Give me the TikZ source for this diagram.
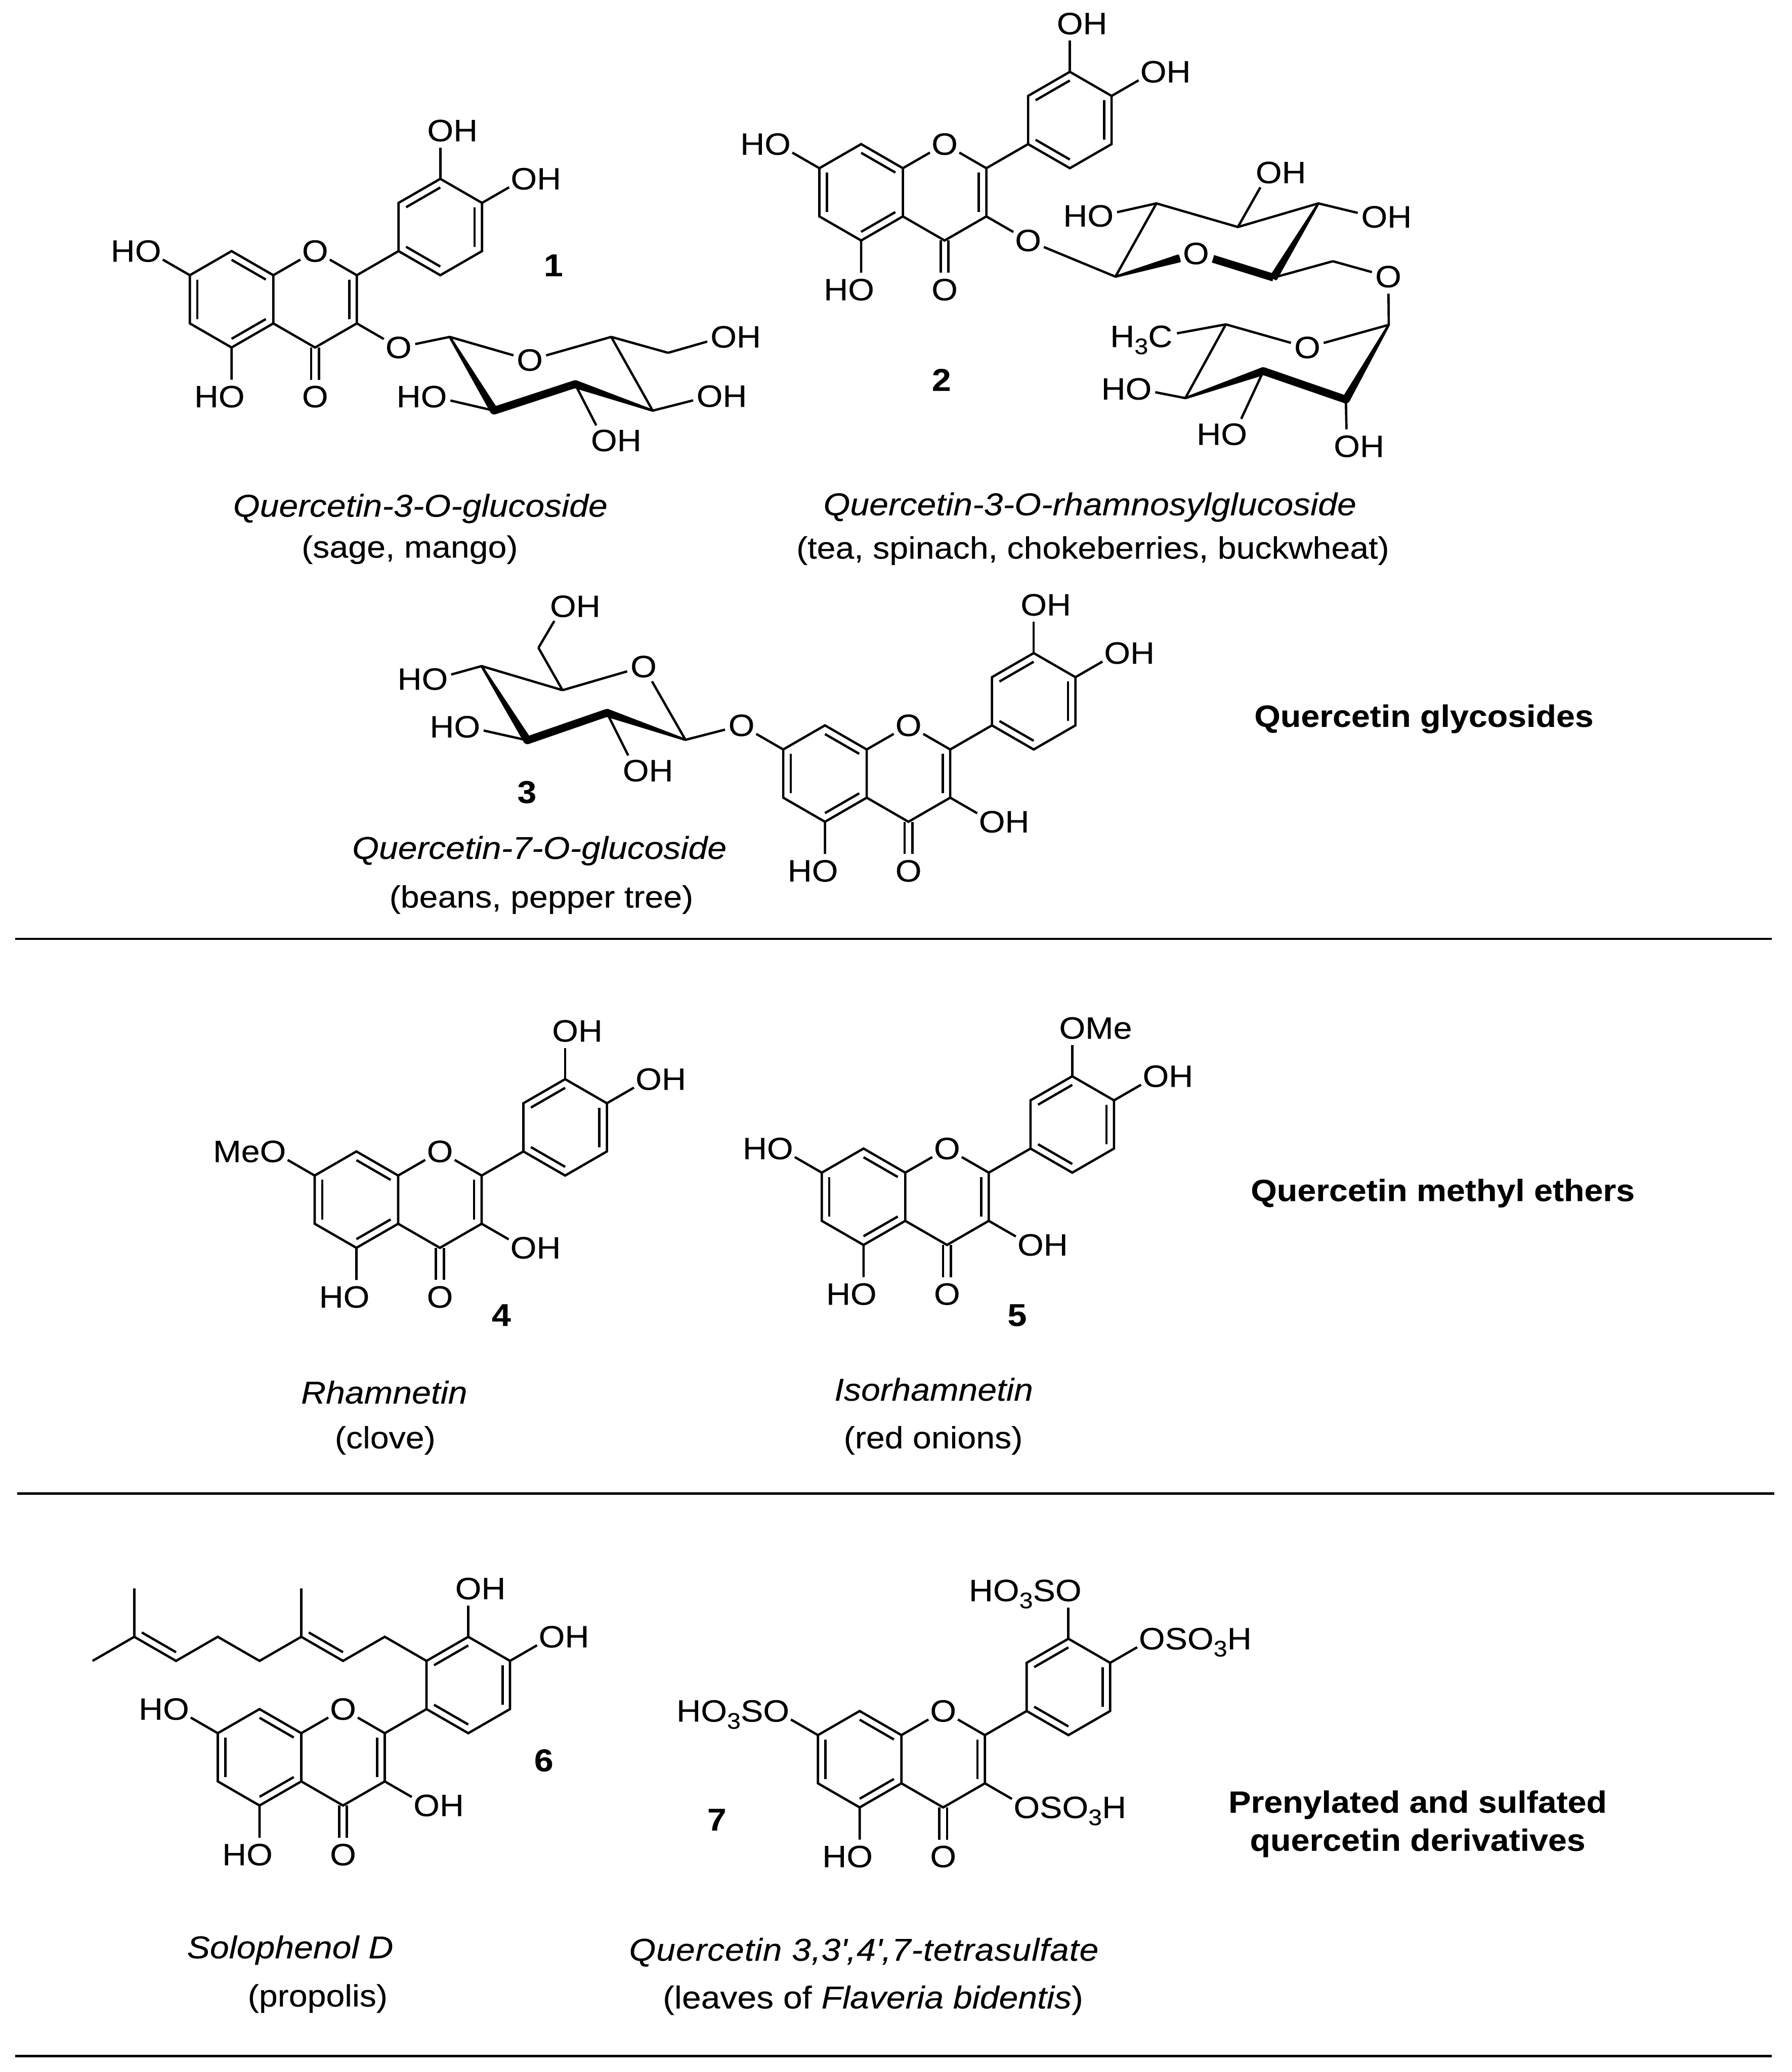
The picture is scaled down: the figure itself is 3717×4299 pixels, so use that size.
\documentclass[tikz,border=0pt]{standalone}
\usepackage{fontspec}
\setmainfont[FakeStretch=1.09,FakeBold=0.2]{Liberation Sans}
\usetikzlibrary{calc}

\newcommand{\atomfont}{\fontsize{18.2}{20}\selectfont}
\newcommand{\capfont}{\fontsize{18.6}{22}\selectfont}
\newcommand{\srcfont}{\fontsize{18.15}{22}\selectfont}
\newcommand{\lpart}[1]{\llap{\smash{#1}}O}
\newcommand{\rpart}[1]{O\rlap{\smash{#1}}}
\newcommand{\subthree}{\raisebox{-.23em}{\fontsize{13.3}{14}\selectfont 3}}

\tikzset{
  bond/.style={line width=1.38pt},
  boldbond/.style={line width=4.6pt,line cap=round},
  wedge/.style={line width=1.38pt,fill=black,line join=round},
  rule/.style={line width=1.42pt},
  atom/.style={circle,inner sep=0pt,outer sep=0pt,minimum size=20pt,font=\atomfont},
  molname/.style={anchor=base,inner sep=0pt,font=\capfont\itshape},
  source/.style={anchor=base,inner sep=0pt,font=\srcfont},
  compno/.style={anchor=base,inner sep=0pt,font=\capfont\bfseries},
  family/.style={anchor=base,inner sep=0pt,font=\srcfont\bfseries},
}

% #1 narrow end, #2 wide end
\newcommand{\wedgebond}[2]{\filldraw[wedge] (#1) -- ($(#2)!1.7pt!90:(#1)$) -- ($(#2)!1.7pt!-90:(#1)$) -- cycle;}
% #1 first atom, #2 second atom, #3 centre of the ring
\newcommand{\dbl}[3]{\draw[bond] ($(#1)!.18!(#3)$) -- ($(#2)!.18!(#3)$);}
% #1 atom, #2 name of the new node, #3 direction, #4 text
\newcommand{\subst}[4]{\node[atom] (#2) at ($(#1)+(#3:100)$) {#4}; \draw[bond] (#1) -- (#2);}

% #1 prefix of the names, #2 #3 position of C8a
\newcommand{\flavone}[3]{
  \begin{scope}[shift={(#2,#3)}]
    \coordinate (#1C8a) at (0,0);
    \coordinate (#1C8) at (-86.6,50);
    \coordinate (#1C7) at (-173.2,0);
    \coordinate (#1C6) at (-173.2,-100);
    \coordinate (#1C5) at (-86.6,-150);
    \coordinate (#1C4a) at (0,-100);
    \coordinate (#1C4) at (86.6,-150);
    \coordinate (#1C3) at (173.2,-100);
    \coordinate (#1C2) at (173.2,0);
    \coordinate (#1Ca) at (-86.6,-50);
    \coordinate (#1Cc) at (86.6,-50);
    \coordinate (#1C1p) at (259.8,50);
    \coordinate (#1C2p) at (259.8,150);
    \coordinate (#1C3p) at (346.4,200);
    \coordinate (#1C4p) at (433,150);
    \coordinate (#1C5p) at (433,50);
    \coordinate (#1C6p) at (346.4,0);
    \coordinate (#1Cb) at (346.4,100);
    \node[atom] (#1O1) at (86.6,50) {O};
    \node[atom] (#1O4) at (86.6,-252) {O};
    \node[atom] (#1O5) at (-86.6,-252) {\lpart{H}};
  \end{scope}
  \draw[bond] (#1C8a) -- (#1C8) -- (#1C7) -- (#1C6) -- (#1C5) -- (#1C4a) -- cycle;
  \draw[bond] (#1C4a) -- (#1C4) -- (#1C3) -- (#1C2) -- (#1C1p);
  \draw[bond] (#1C1p) -- (#1C2p) -- (#1C3p) -- (#1C4p) -- (#1C5p) -- (#1C6p) -- cycle;
  \draw[bond] (#1C8a) -- (#1O1) (#1O1) -- (#1C2) (#1C5) -- (#1O5);
  \draw[bond] ([xshift=-2.3pt]#1C4) -- ([xshift=-2.3pt]#1O4.north);
  \draw[bond] ([xshift=2.3pt]#1C4) -- ([xshift=2.3pt]#1O4.north);
  \dbl{#1C8}{#1C8a}{#1Ca}
  \dbl{#1C7}{#1C6}{#1Ca}
  \dbl{#1C5}{#1C4a}{#1Ca}
  \dbl{#1C2}{#1C3}{#1Cc}
  \dbl{#1C1p}{#1C6p}{#1Cb}
  \dbl{#1C2p}{#1C3p}{#1Cb}
  \dbl{#1C4p}{#1C5p}{#1Cb}
}

\begin{document}
\begin{tikzpicture}[x=0.01cm,y=0.01cm]
  \useasboundingbox (0,0) rectangle (3717,-4299);

  % quercetin-3-O-glucoside
  \flavone{a}{567}{-571}
  \subst{aC7}{aO7}{150}{\lpart{H}}
  \subst{aC3p}{aO3p}{90}{\rpart{H}}
  \subst{aC4p}{aO4p}{30}{\rpart{H}}
  \subst{aC3}{aO3}{-30}{O}
  \coordinate (aS1) at (933,-699);
  \coordinate (aS2) at (1025,-852);
  \coordinate (aS3) at (1193,-797);
  \coordinate (aS4) at (1354,-852);
  \coordinate (aS5) at (1268,-699);
  \coordinate (aS6) at (1386,-732);
  \node[atom] (aSO) at (1099,-747) {O};
  \node[atom] (aSO2) at (900,-823) {\lpart{H}};
  \node[atom] (aSO3) at (1253,-914) {\rpart{H}};
  \node[atom] (aSO4) at (1472,-822) {\rpart{H}};
  \node[atom] (aSO6) at (1501,-699) {\rpart{H}};
  \draw[bond] (aO3) -- (aS1) (aS1) -- (aSO) (aSO) -- (aS5) (aS5) -- (aS4) (aS5) -- (aS6) (aS6) -- (aSO6);
  \draw[bond] (aS2) -- (aSO2) (aS3) -- (aSO3) (aS4) -- (aSO4);
  \wedgebond{aS1}{aS2}
  \draw[boldbond] (aS2) -- (aS3);
  \wedgebond{aS4}{aS3}
  \node[compno] (aNo) at (1148,-573) {1};
  \node[molname] (aName) at (872,-1072) {Quercetin-3-O-glucoside};
  \node[source] (aSrc) at (850,-1157) {(sage, mango)};

  % quercetin-3-O-rhamnosylglucoside
  \flavone{b}{1873}{-349}
  \subst{bC7}{bO7}{150}{\lpart{H}}
  \subst{bC3p}{bO3p}{90}{\rpart{H}}
  \subst{bC4p}{bO4p}{30}{\rpart{H}}
  \subst{bC3}{bO3}{-30}{O}
  \coordinate (bS1) at (2314,-574);
  \coordinate (bS2) at (2399,-422);
  \coordinate (bS3) at (2568,-471);
  \coordinate (bS4) at (2735,-422);
  \coordinate (bS5) at (2642,-576);
  \coordinate (bS6) at (2765,-542);
  \node[atom] (bSO) at (2481,-526) {O};
  \node[atom] (bSO2) at (2283,-448) {\lpart{H}};
  \node[atom] (bSO3) at (2632,-358) {\rpart{H}};
  \node[atom] (bSO4) at (2851,-450) {\rpart{H}};
  \node[atom] (bSO6) at (2880,-574) {O};
  \coordinate (bSw) at ($(bSO)!10.5pt!(bS1)$);
  \coordinate (bSb) at ($(bSO)!10.5pt!(bS5)$);
  \draw[bond] (bO3) -- (bS1) (bS1) -- (bS2) -- (bS3) -- (bS4) (bS5) -- (bS6) (bS6) -- (bSO6);
  \draw[bond] (bS2) -- (bSO2) (bS3) -- (bSO3) (bS4) -- (bSO4);
  \wedgebond{bS1}{bSw}
  \draw[boldbond,line cap=butt] (bSb) -- (bS5);
  \wedgebond{bS4}{bS5}
  \coordinate (bR1) at (2881,-674);
  \coordinate (bR2) at (2792,-829);
  \coordinate (bR3) at (2621,-770);
  \coordinate (bR4) at (2459,-826);
  \coordinate (bR5) at (2543,-673);
  \node[atom] (bRO) at (2712,-721) {O};
  \node[atom] (bRMe) at (2407,-698) {\llap{\smash{H\subthree}}C};
  \node[atom] (bRO2) at (2794,-926) {\rpart{H}};
  \node[atom] (bRO3) at (2560,-901) {\lpart{H}};
  \node[atom] (bRO4) at (2362,-807) {\lpart{H}};
  \draw[bond] (bSO6) -- (bR1) (bR1) -- (bRO) (bRO) -- (bR5) (bR5) -- (bRMe) (bR5) -- (bR4);
  \draw[bond] (bR2) -- (bRO2) (bR3) -- (bRO3) (bR4) -- (bRO4);
  \wedgebond{bR4}{bR3}
  \draw[boldbond] (bR3) -- (bR2);
  \wedgebond{bR1}{bR2}
  \node[compno] (bNo) at (1953,-811) {2};
  \node[molname] (bName) at (2261,-1069) {Quercetin-3-O-rhamnosylglucoside};
  \node[source] (bSrc) at (2267,-1159) {(tea, spinach, chokeberries, buckwheat)};

  % quercetin-7-O-glucoside
  \flavone{c}{1798}{-1555}
  \subst{cC7}{cO7}{150}{O}
  \subst{cC3p}{cO3p}{90}{\rpart{H}}
  \subst{cC4p}{cO4p}{30}{\rpart{H}}
  \subst{cC3}{cO3}{-30}{\rpart{H}}
  \coordinate (cS1) at (1422,-1535);
  \coordinate (cS2) at (1259,-1479);
  \coordinate (cS3) at (1094,-1536);
  \coordinate (cS4) at (999,-1382);
  \coordinate (cS5) at (1167,-1432);
  \coordinate (cS6) at (1117,-1344);
  \node[atom] (cSO) at (1335,-1383) {O};
  \node[atom] (cSO2) at (1319,-1599) {\rpart{H}};
  \node[atom] (cSO3) at (969,-1508) {\lpart{H}};
  \node[atom] (cSO4) at (902,-1409) {\lpart{H}};
  \node[atom] (cSO6) at (1168,-1258) {\rpart{H}};
  \draw[bond] (cO7) -- (cS1) (cS1) -- (cSO) (cSO) -- (cS5) (cS5) -- (cS4) (cS5) -- (cS6) (cS6) -- (cSO6);
  \draw[bond] (cS2) -- (cSO2) (cS3) -- (cSO3) (cS4) -- (cSO4);
  \wedgebond{cS4}{cS3}
  \draw[boldbond] (cS3) -- (cS2);
  \wedgebond{cS1}{cS2}
  \node[compno] (cNo) at (1093,-1666) {3};
  \node[molname] (cName) at (1119,-1782) {Quercetin-7-O-glucoside};
  \node[source] (cSrc) at (1123,-1883) {(beans, pepper tree)};
  \node[family] (famA) at (2954,-1508) {Quercetin glycosides};

  \draw[rule] (31,-1948) -- (3675,-1948);

  % rhamnetin
  \flavone{d}{826}{-2439}
  \subst{dC7}{dO7}{150}{\lpart{Me}}
  \subst{dC3p}{dO3p}{90}{\rpart{H}}
  \subst{dC4p}{dO4p}{30}{\rpart{H}}
  \subst{dC3}{dO3}{-30}{\rpart{H}}
  \node[compno] (dNo) at (1040,-2751) {4};
  \node[molname] (dName) at (797,-2912) {Rhamnetin};
  \node[source] (dSrc) at (799,-3005) {(clove)};

  % isorhamnetin
  \flavone{e}{1878}{-2433}
  \subst{eC7}{eO7}{150}{\lpart{H}}
  \subst{eC3p}{eO3p}{90}{\rpart{Me}}
  \subst{eC4p}{eO4p}{30}{\rpart{H}}
  \subst{eC3}{eO3}{-30}{\rpart{H}}
  \node[compno] (eNo) at (2110,-2751) {5};
  \node[molname] (eName) at (1937,-2906) {Isorhamnetin};
  \node[source] (eSrc) at (1936,-3005) {(red onions)};
  \node[family] (famB) at (2993,-2492) {Quercetin methyl ethers};

  \draw[rule] (36,-3099) -- (3681,-3099);

  % solophenol D
  \flavone{f}{625}{-3596}
  \subst{fC7}{fO7}{150}{\lpart{H}}
  \subst{fC3p}{fO3p}{90}{\rpart{H}}
  \subst{fC4p}{fO4p}{30}{\rpart{H}}
  \subst{fC3}{fO3}{-30}{\rpart{H}}
  \coordinate (fP1) at ($(fC2p)+(150:100)$);
  \coordinate (fP2) at ($(fP1)+(-150:100)$);
  \coordinate (fP3) at ($(fP2)+(150:100)$);
  \coordinate (fP4) at ($(fP3)+(-150:100)$);
  \coordinate (fP5) at ($(fP4)+(150:100)$);
  \coordinate (fP6) at ($(fP5)+(-150:100)$);
  \coordinate (fP7) at ($(fP6)+(150:100)$);
  \coordinate (fMe1) at ($(fP3)+(90:100)$);
  \coordinate (fMe2) at ($(fP7)+(90:100)$);
  \coordinate (fMe3) at ($(fP7)+(-150:100)$);
  \draw[bond] (fC2p) -- (fP1) -- (fP2) -- (fP3) -- (fP4) -- (fP5) -- (fP6) -- (fP7) -- (fMe3);
  \draw[bond] (fP3) -- (fMe1) (fP7) -- (fMe2);
  \coordinate (fD1) at ($(fP3)+(30:100)$);
  \coordinate (fD2) at ($(fP7)+(30:100)$);
  \dbl{fP3}{fP2}{fD1}
  \dbl{fP7}{fP6}{fD2}
  \node[compno] (fNo) at (1128,-3675) {6};
  \node[molname] (fName) at (602,-4063) {Solophenol D};
  \node[source] (fSrc) at (659,-4163) {(propolis)};

  % tetrasulfate
  \flavone{g}{1870}{-3600}
  \subst{gC7}{gO7}{150}{\lpart{HO\subthree S}}
  \subst{gC3p}{gO3p}{90}{\lpart{HO\subthree S}}
  \subst{gC4p}{gO4p}{30}{\rpart{SO\subthree H}}
  \subst{gC3}{gO3}{-30}{\rpart{SO\subthree H}}
  \node[compno] (gNo) at (1487,-3798) {7};
  \node[molname] (gName) at (1792,-4068) {\addfontfeature{LetterSpace=1.5}Quercetin 3,3\textquotesingle,4\textquotesingle,7-tetrasulfate};
  \node[source,font=\capfont] (gSrc) at (1811,-4167) {(leaves of \textit{Flaveria bidentis})};
  \node[family] (famC) at (2941,-3761) {Prenylated and sulfated};
  \node[family] (famD) at (2941,-3840) {quercetin derivatives};

  \draw[rule] (31,-4266) -- (3675,-4266);
\end{tikzpicture}
\end{document}
